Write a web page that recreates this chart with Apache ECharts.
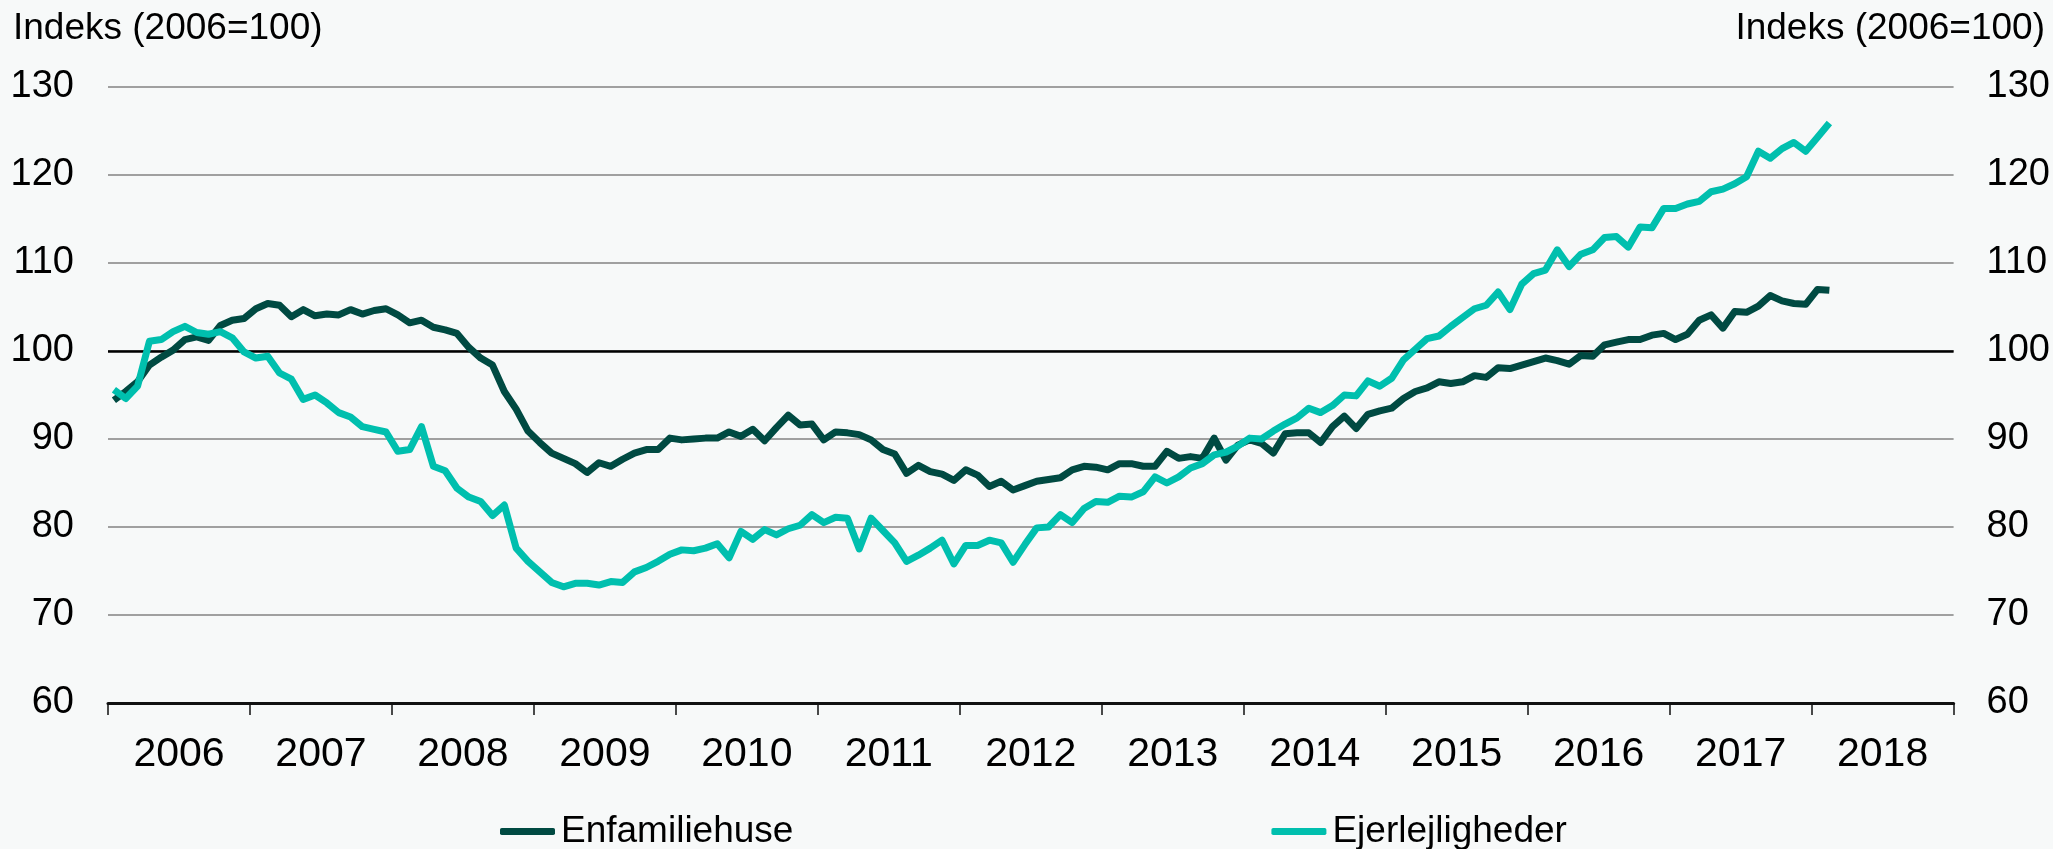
<!DOCTYPE html>
<html>
<head>
<meta charset="utf-8">
<script src="https://cdn.jsdelivr.net/npm/echarts@6/dist/echarts.min.js"></script>
<style>
  html, body { margin: 0; padding: 0; background: #f7f9f9; }
  #chart { width: 2053px; height: 849px; }
</style>
</head>
<body>
<div id="chart"></div>
<script>
// år på x-aksen
var years = ['2006', '2007', '2008', '2009', '2010', '2011', '2012', '2013', '2014', '2015', '2016', '2017', '2018'];

// månedlige kategorier (data ligger på denne skjulte akse)
var months = [];
years.forEach(function (y) {
    for (var m = 1; m <= 12; m++) {
        months.push(y + '-' + (m < 10 ? '0' + m : m));
    }
});

// Enfamiliehuse, jan 2006 - feb 2018
var enfamiliehuse = [
    94.4, 95.4, 96.5, 98.4, 99.3, 100.1, 101.3, 101.6, 101.2, 102.9, 103.5, 103.7,
    104.8, 105.4, 105.2, 103.9, 104.7, 104.0, 104.2, 104.1, 104.7, 104.2, 104.6, 104.8,
    104.1, 103.2, 103.5, 102.7, 102.4, 102.0, 100.4, 99.2, 98.4, 95.4, 93.4, 90.9,
    89.6, 88.4, 87.8, 87.2, 86.2, 87.3, 86.9, 87.7, 88.4, 88.8, 88.8, 90.1,
    89.9, 90.0, 90.1, 90.1, 90.8, 90.3, 91.1, 89.8, 91.3, 92.7, 91.6, 91.7,
    89.9, 90.8, 90.7, 90.5, 89.9, 88.8, 88.3, 86.1, 87.0, 86.3, 86.0, 85.3,
    86.5, 85.9, 84.6, 85.2, 84.2, 84.7, 85.2, 85.4, 85.6, 86.5, 86.9, 86.8,
    86.5, 87.2, 87.2, 86.9, 86.9, 88.6, 87.8, 88.0, 87.8, 90.1, 87.6, 89.3,
    89.9, 89.5, 88.4, 90.6, 90.7, 90.7, 89.6, 91.4, 92.6, 91.2, 92.8, 93.2,
    93.5, 94.6, 95.4, 95.8, 96.5, 96.3, 96.5, 97.2, 97.0, 98.1, 98.0, 98.4,
    98.8, 99.2, 98.9, 98.5, 99.5, 99.4, 100.7, 101.0, 101.3, 101.3, 101.8, 102.0,
    101.3, 101.9, 103.5, 104.1, 102.6, 104.5, 104.4, 105.1, 106.3, 105.7, 105.4, 105.3,
    107.0, 106.9
];

// Ejerlejligheder, jan 2006 - feb 2018
var ejerlejligheder = [
    95.6, 94.6, 96.0, 101.1, 101.3, 102.2, 102.8, 102.1, 101.9, 102.2, 101.5, 99.9,
    99.2, 99.4, 97.5, 96.8, 94.5, 95.0, 94.1, 93.0, 92.5, 91.4, 91.1, 90.8,
    88.6, 88.8, 91.4, 86.9, 86.4, 84.4, 83.4, 82.9, 81.3, 82.5, 77.6, 76.1,
    74.9, 73.7, 73.2, 73.6, 73.6, 73.4, 73.8, 73.7, 74.9, 75.4, 76.1, 76.9,
    77.4, 77.3, 77.6, 78.1, 76.5, 79.5, 78.6, 79.7, 79.1, 79.8, 80.2, 81.4,
    80.5, 81.1, 81.0, 77.5, 81.0, 79.6, 78.2, 76.1, 76.8, 77.6, 78.5, 75.8,
    77.9, 77.9, 78.5, 78.2, 76.0, 78.0, 79.9, 80.0, 81.4, 80.5, 82.1, 82.9,
    82.8, 83.5, 83.4, 84.0, 85.7, 85.0, 85.7, 86.7, 87.2, 88.2, 88.5, 89.2,
    90.1, 90.0, 90.9, 91.7, 92.4, 93.5, 93.0, 93.8, 95.0, 94.9, 96.6, 96.0,
    96.9, 99.0, 100.2, 101.4, 101.7, 102.8, 103.8, 104.8, 105.2, 106.7, 104.7, 107.6,
    108.8, 109.2, 111.5, 109.6, 111.0, 111.5, 112.9, 113.0, 111.8, 114.1, 114.0, 116.2,
    116.2, 116.7, 117.0, 118.1, 118.4, 119.0, 119.8, 122.7, 121.9, 123.0, 123.7, 122.7,
    124.3, 125.9
];

var yTicks = { min: 60, max: 130, interval: 10 };
var axisName = 'Indeks (2006=100)';
</script>
<script>
(function () {
    var font = '"Liberation Sans", Arial, sans-serif';
    var myChart = echarts.init(document.getElementById('chart'));

    var option = {
        backgroundColor: '#f7f9f9',
        animation: false,
        textStyle: { fontFamily: font, color: '#000' },
        title: [
            {
                text: axisName,
                left: 8,
                top: 5,
                textStyle: { fontSize: 37, fontWeight: 'normal', color: '#000', fontFamily: font }
            },
            {
                text: axisName,
                right: 3,
                top: 5,
                textStyle: { fontSize: 37, fontWeight: 'normal', color: '#000', fontFamily: font }
            }
        ],
        legend: {
            left: 495,
            top: 808,
            itemWidth: 55,
            itemHeight: 7,
            itemGap: 478,
            icon: 'roundRect',
            textStyle: { fontSize: 37, color: '#000', fontFamily: font, padding: [0, 0, 0, 1] },
            data: ['Enfamiliehuse', 'Ejerlejligheder']
        },
        grid: {
            left: 108,
            right: 99,
            top: 87,
            bottom: 146,
            containLabel: false
        },
        xAxis: [
            {
                type: 'category',
                data: years,
                position: 'bottom',
                boundaryGap: true,
                axisLine: { lineStyle: { color: '#111', width: 3 } },
                axisTick: { show: true, interval: 0, length: 12, lineStyle: { color: '#111', width: 1.5 } },
                axisLabel: { interval: 0, fontSize: 41, color: '#000', margin: 31, fontFamily: font },
                splitLine: { show: false }
            },
            {
                type: 'category',
                data: months,
                boundaryGap: true,
                show: false
            }
        ],
        yAxis: [
            {
                type: 'value',
                min: yTicks.min,
                max: yTicks.max,
                interval: yTicks.interval,
                position: 'left',
                axisLine: { show: false },
                axisTick: { show: false },
                axisLabel: { fontSize: 38, color: '#000', margin: 34, fontFamily: font },
                splitLine: { lineStyle: { color: '#a0a0a0', width: 2 } }
            },
            {
                type: 'value',
                min: yTicks.min,
                max: yTicks.max,
                interval: yTicks.interval,
                position: 'right',
                axisLine: { show: false },
                axisTick: { show: false },
                axisLabel: { fontSize: 38, color: '#000', margin: 33, fontFamily: font },
                splitLine: { show: false }
            }
        ],
        series: [
            {
                name: 'Enfamiliehuse',
                type: 'line',
                xAxisIndex: 1,
                yAxisIndex: 0,
                data: enfamiliehuse,
                showSymbol: false,
                symbol: 'none',
                color: '#004a42',
                lineStyle: { color: '#004a42', width: 7, join: 'round' },
                z: 3,
                markLine: {
                    silent: true,
                    symbol: 'none',
                    label: { show: false },
                    lineStyle: { color: '#000', width: 2.5, type: 'solid' },
                    data: [{ yAxis: 100 }],
                    z: 2
                }
            },
            {
                name: 'Ejerlejligheder',
                type: 'line',
                xAxisIndex: 1,
                yAxisIndex: 0,
                data: ejerlejligheder,
                showSymbol: false,
                symbol: 'none',
                color: '#00bfae',
                lineStyle: { color: '#00bfae', width: 7, join: 'round' },
                z: 4
            }
        ]
    };

    myChart.setOption(option);
    window.addEventListener('resize', function () {
        myChart.resize();
    });
})();
</script>
</body>
</html>
